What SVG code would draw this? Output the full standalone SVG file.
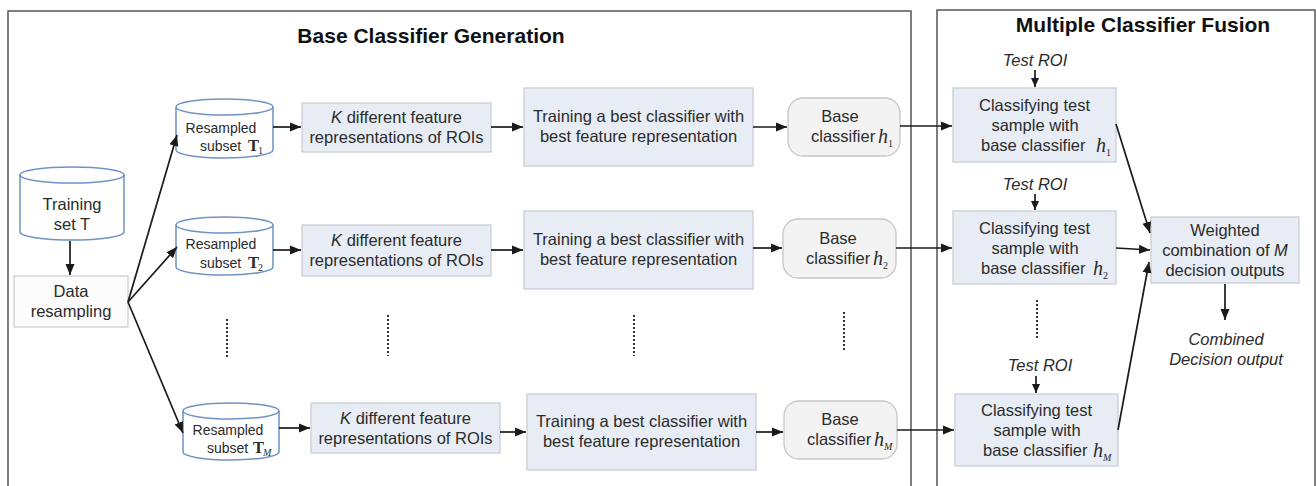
<svg xmlns="http://www.w3.org/2000/svg" width="1316" height="486" viewBox="0 0 1316 486">
<defs>
<marker id="ah" markerUnits="userSpaceOnUse" markerWidth="12" markerHeight="10" refX="11" refY="5" orient="auto">
<path d="M0,0.5 L11,5 L0,9.5 Z" fill="#1a1a1a"/>
</marker>
<marker id="ahs" markerUnits="userSpaceOnUse" markerWidth="10" markerHeight="9" refX="9" refY="4.5" orient="auto">
<path d="M0,0.5 L9,4.5 L0,8.5 Z" fill="#1a1a1a"/>
</marker>
</defs>
<style>
text{font-family:"Liberation Sans",Arial,sans-serif;fill:#2b2b2b;font-size:16.5px}
.c{text-anchor:middle}
.title{font-weight:bold;font-size:21px;fill:#111}
.frame{fill:none;stroke:#555;stroke-width:1.5}
.cyl{fill:#fff;stroke:#6f93c6;stroke-width:1.5}
.blue{fill:#e8edf5;stroke:#c9ced6;stroke-width:1.3}
.gray{fill:#f3f3f3;stroke:#c6c6c6;stroke-width:1.3}
.white{fill:#fcfcfc;stroke:#cfcfcf;stroke-width:1.3}
.cy{font-size:14px}
.it{font-style:italic}
.serif{font-family:"Liberation Serif","Times New Roman",serif}
.h{font-family:"Liberation Serif","Times New Roman",serif;font-style:italic;font-size:20px}
.sub{font-family:"Liberation Serif","Times New Roman",serif;font-size:10px}
.conn path,.conn line{fill:none;stroke:#1a1a1a;stroke-width:1.7}
.dot{stroke:#333;stroke-width:2;stroke-dasharray:2 2;fill:none}
</style>
<rect width="1316" height="486" fill="#fff"/>
<g id="panels">
<path class="frame" d="M8,490 V11 H911 V490"/>
<path class="frame" d="M937,490 V10 H1315 V490"/>
<text class="title c" x="431" y="43">Base Classifier Generation</text>
<text class="title c" x="1143" y="32">Multiple Classifier Fusion</text>
</g>
<g id="training-set">
<path class="cyl" d="M20,175 V232 A52,8 0 0 0 124,232 V175"/>
<ellipse class="cyl" cx="72" cy="175" rx="52" ry="8"/>
<text class="c" x="72" y="210">Training</text>
<text class="c" x="72" y="230">set T</text>
</g>
<g id="data-resampling">
<rect class="white" x="14" y="276" width="114" height="51"/>
<text class="c" x="71" y="297">Data</text>
<text class="c" x="71" y="317">resampling</text>
</g>
<g id="subset-1">
<path class="cyl" d="M176,107 V150 A48.5,8 0 0 0 273,150 V107"/>
<ellipse class="cyl" cx="224.5" cy="107" rx="48.5" ry="8"/>
<text class="cy c" x="221" y="133">Resampled</text>
<text class="cy" x="200" y="151">subset</text>
<text class="serif" x="248" y="151" font-weight="bold" font-size="16">T</text>
<text class="sub" x="258" y="154">1</text>
</g>
<g id="subset-2">
<path class="cyl" d="M176,225 V267 A48.5,8 0 0 0 273,267 V225"/>
<ellipse class="cyl" cx="224.5" cy="225" rx="48.5" ry="8"/>
<text class="cy c" x="221" y="249">Resampled</text>
<text class="cy" x="200" y="268">subset</text>
<text class="serif" x="248" y="268" font-weight="bold" font-size="16">T</text>
<text class="sub" x="258" y="271">2</text>
</g>
<g id="subset-M">
<path class="cyl" d="M183,411 V452 A48,8 0 0 0 279,452 V411"/>
<ellipse class="cyl" cx="231" cy="411" rx="48" ry="8"/>
<text class="cy c" x="228" y="435">Resampled</text>
<text class="cy" x="207" y="453">subset</text>
<text class="serif" x="253" y="453" font-weight="bold" font-size="16">T</text>
<text class="sub it" x="263" y="456">M</text>
</g>
<g id="features-1">
<rect class="blue" x="302" y="103" width="189" height="49"/>
<text class="c" x="396.5" y="123"><tspan class="it">K</tspan> different feature</text>
<text class="c" x="396.5" y="143">representations of ROIs</text>
</g>
<g id="features-2">
<rect class="blue" x="302" y="225" width="189" height="51"/>
<text class="c" x="396.5" y="246"><tspan class="it">K</tspan> different feature</text>
<text class="c" x="396.5" y="266">representations of ROIs</text>
</g>
<g id="features-M">
<rect class="blue" x="311" y="403" width="189" height="50"/>
<text class="c" x="405.5" y="424"><tspan class="it">K</tspan> different feature</text>
<text class="c" x="405.5" y="444">representations of ROIs</text>
</g>
<g id="training-1">
<rect class="blue" x="524" y="88" width="229" height="78"/>
<text class="c" x="638.5" y="122">Training a best classifier with</text>
<text class="c" x="638.5" y="142">best feature representation</text>
</g>
<g id="training-2">
<rect class="blue" x="524" y="211" width="229" height="78"/>
<text class="c" x="638.5" y="245">Training a best classifier with</text>
<text class="c" x="638.5" y="265">best feature representation</text>
</g>
<g id="training-M">
<rect class="blue" x="527" y="394" width="229" height="76"/>
<text class="c" x="641.5" y="427">Training a best classifier with</text>
<text class="c" x="641.5" y="447">best feature representation</text>
</g>
<g id="base-1">
<rect class="gray" x="788" y="98" width="112" height="58" rx="15"/>
<text class="c" x="840" y="122">Base</text>
<text x="811" y="142">classifier</text>
<text class="h" x="878" y="143">h</text>
<text class="sub" x="888" y="147">1</text>
</g>
<g id="base-2">
<rect class="gray" x="783" y="219" width="113" height="59" rx="15"/>
<text class="c" x="838" y="244">Base</text>
<text x="806" y="264">classifier</text>
<text class="h" x="873" y="265">h</text>
<text class="sub" x="883" y="269">2</text>
</g>
<g id="base-M">
<rect class="gray" x="784" y="401" width="113" height="58" rx="15"/>
<text class="c" x="840" y="425">Base</text>
<text x="807" y="445">classifier</text>
<text class="h" x="874" y="446">h</text>
<text class="sub it" x="884" y="450">M</text>
</g>
<g id="classify-1">
<text class="it c" x="1035" y="66" font-size="15.5">Test ROI</text>
<rect class="blue" x="953" y="88" width="163" height="74"/>
<text class="c" x="1034.5" y="111">Classifying test</text>
<text class="c" x="1035" y="131">sample with</text>
<text x="981" y="151">base classifier</text>
<text class="h" x="1096" y="152">h</text>
<text class="sub" x="1106" y="156">1</text>
</g>
<g id="classify-2">
<text class="it c" x="1035" y="190" font-size="15.5">Test ROI</text>
<rect class="blue" x="953" y="211" width="163" height="73"/>
<text class="c" x="1034.5" y="234">Classifying test</text>
<text class="c" x="1035" y="254">sample with</text>
<text x="981" y="274">base classifier</text>
<text class="h" x="1093" y="275">h</text>
<text class="sub" x="1103" y="279">2</text>
</g>
<g id="classify-M">
<text class="it c" x="1040" y="371" font-size="15.5">Test ROI</text>
<rect class="blue" x="955" y="394" width="163" height="72"/>
<text class="c" x="1036.5" y="416">Classifying test</text>
<text class="c" x="1037" y="436">sample with</text>
<text x="983" y="456">base classifier</text>
<text class="h" x="1093" y="457">h</text>
<text class="sub it" x="1103" y="461">M</text>
</g>
<g id="weighted">
<rect class="blue" x="1151" y="217" width="148" height="66"/>
<text class="c" x="1225" y="236">Weighted</text>
<text class="c" x="1225" y="256">combination of <tspan class="it">M</tspan></text>
<text class="c" x="1225" y="276">decision outputs</text>
</g>
<g id="combined-output">
<text class="it c" x="1226" y="345" font-size="17">Combined</text>
<text class="it c" x="1226" y="365" font-size="17">Decision output</text>
</g>
<g id="ellipsis">
<line class="dot" x1="227" y1="319" x2="227" y2="359"/>
<line class="dot" x1="388" y1="315" x2="388" y2="356"/>
<line class="dot" x1="634" y1="315" x2="634" y2="356"/>
<line class="dot" x1="844" y1="312" x2="844" y2="352"/>
<line class="dot" x1="1037" y1="300" x2="1037" y2="340"/>
</g>
<g class="conn" id="connectors">
<line x1="70" y1="241" x2="70" y2="275" marker-end="url(#ah)"/>
<line x1="128" y1="302" x2="177" y2="135" marker-end="url(#ah)"/>
<line x1="128" y1="302" x2="177" y2="247" marker-end="url(#ah)"/>
<line x1="128" y1="302" x2="183" y2="433" marker-end="url(#ah)"/>
<line x1="273" y1="127" x2="301" y2="127" marker-end="url(#ah)"/>
<line x1="273" y1="250" x2="301" y2="250" marker-end="url(#ah)"/>
<line x1="279" y1="428" x2="310" y2="428" marker-end="url(#ah)"/>
<line x1="491" y1="127" x2="523" y2="127" marker-end="url(#ah)"/>
<line x1="491" y1="250" x2="523" y2="250" marker-end="url(#ah)"/>
<line x1="500" y1="432" x2="526" y2="432" marker-end="url(#ah)"/>
<line x1="753" y1="127" x2="787" y2="127" marker-end="url(#ah)"/>
<line x1="753" y1="248" x2="782" y2="248" marker-end="url(#ah)"/>
<line x1="756" y1="432" x2="783" y2="432" marker-end="url(#ah)"/>
<line x1="900" y1="126" x2="952" y2="126" marker-end="url(#ah)"/>
<line x1="896" y1="248" x2="952" y2="248" marker-end="url(#ah)"/>
<line x1="897" y1="430" x2="954" y2="430" marker-end="url(#ah)"/>
<line x1="1035" y1="70" x2="1035" y2="87" marker-end="url(#ahs)"/>
<line x1="1035" y1="194" x2="1035" y2="210" marker-end="url(#ahs)"/>
<line x1="1036" y1="376" x2="1036" y2="393" marker-end="url(#ahs)"/>
<line x1="1116" y1="124" x2="1150" y2="233" marker-end="url(#ah)"/>
<line x1="1116" y1="248" x2="1150" y2="250" marker-end="url(#ah)"/>
<line x1="1118" y1="430" x2="1149" y2="262" marker-end="url(#ah)"/>
<line x1="1225" y1="284" x2="1225" y2="320" marker-end="url(#ah)"/>
</g>
</svg>
